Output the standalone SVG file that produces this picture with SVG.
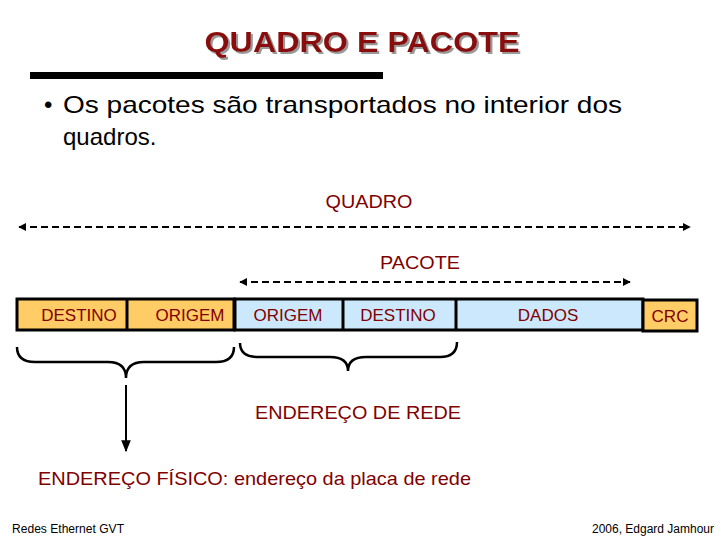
<svg xmlns="http://www.w3.org/2000/svg" width="720" height="540" viewBox="0 0 720 540">
<defs>
<style>
.t{font-family:"Liberation Sans",Arial,sans-serif;fill:#800000}
.b{font-family:"Liberation Sans",Arial,sans-serif;fill:#000}
.box{stroke:#000;stroke-width:3}
.dash{stroke:#000;stroke-width:2;stroke-dasharray:7 4;fill:none}
.brace{stroke:#000;stroke-width:2.5;fill:none}
</style>
<filter id="sh" x="-5%" y="-20%" width="110%" height="140%">
<feDropShadow dx="2" dy="2" stdDeviation="0.3" flood-color="#999" flood-opacity="1"/>
</filter>
<marker id="ah" viewBox="0 0 10 10" refX="9" refY="5" markerWidth="4" markerHeight="4" orient="auto-start-reverse" markerUnits="strokeWidth">
<path d="M0,0 L10,5 L0,10 z" fill="#000"/>
</marker>
<marker id="ah2" viewBox="0 0 10 10" refX="9" refY="5" markerWidth="6" markerHeight="6" orient="auto" markerUnits="strokeWidth">
<path d="M0,1 L10,5 L0,9 z" fill="#000"/>
</marker>
</defs>
<rect width="720" height="540" fill="#fff"/>
<g id="title">
<text class="t" x="362" y="52" text-anchor="middle" font-weight="bold" font-size="29" textLength="315" lengthAdjust="spacingAndGlyphs" filter="url(#sh)" style="fill:#8a0a0a">QUADRO E PACOTE</text>
<rect x="30" y="72" width="353" height="7" fill="#000"/>
</g>
<g id="bullet">
<text class="b" x="44" y="113" font-size="24">•</text>
<text class="b" x="63" y="113" font-size="24" textLength="559" lengthAdjust="spacingAndGlyphs">Os pacotes são transportados no interior dos</text>
<text class="b" x="63" y="145" font-size="24">quadros.</text>
</g>
<g id="connectors">
<line class="dash" x1="19" y1="227" x2="690" y2="227" marker-start="url(#ah)" marker-end="url(#ah)"/>
<line class="dash" x1="240" y1="282" x2="630" y2="282" marker-start="url(#ah)" marker-end="url(#ah)"/>
<path class="brace" d="M17,347 Q17,362 35,362 L108,362 Q126,362 126,378 Q126,362 144,362 L216,362 Q234,362 234,347"/>
<path class="brace" d="M240,343 Q240,357 258,357 L330,357 Q348,357 348,371 Q348,357 366,357 L440,357 Q457,357 457,342"/>
<line x1="126" y1="385" x2="126" y2="451" stroke="#000" stroke-width="2" marker-end="url(#ah2)"/>
</g>
<g id="label-quadro"><text class="t" x="369" y="208" text-anchor="middle" font-size="18" textLength="87" lengthAdjust="spacingAndGlyphs">QUADRO</text></g>
<g id="label-pacote"><text class="t" x="420" y="269" text-anchor="middle" font-size="18" textLength="80" lengthAdjust="spacingAndGlyphs">PACOTE</text></g>
<g id="frame-orange">
<rect class="box" x="17" y="299" width="217" height="31" fill="#ffcc66"/>
<line x1="127" y1="299" x2="127" y2="330" stroke="#000" stroke-width="3"/>
<text class="t" x="79" y="321" text-anchor="middle" font-size="17">DESTINO</text>
<text class="t" x="190" y="321" text-anchor="middle" font-size="17">ORIGEM</text>
</g>
<g id="packet">
<rect class="box" x="235" y="299" width="408" height="31" fill="#cce8fc"/>
<line x1="343" y1="299" x2="343" y2="330" stroke="#000" stroke-width="3"/>
<line x1="456" y1="299" x2="456" y2="330" stroke="#000" stroke-width="3"/>
<text class="t" x="288" y="321" text-anchor="middle" font-size="17">ORIGEM</text>
<text class="t" x="398" y="321" text-anchor="middle" font-size="17">DESTINO</text>
<text class="t" x="548" y="321" text-anchor="middle" font-size="17">DADOS</text>
</g>
<g id="crc">
<rect class="box" x="643" y="300" width="54" height="31" fill="#ffcc66"/>
<text class="t" x="670" y="322" text-anchor="middle" font-size="17">CRC</text>
</g>
<g id="label-rede"><text class="t" x="255" y="419" font-size="19" textLength="206" lengthAdjust="spacingAndGlyphs">ENDEREÇO DE REDE</text></g>
<g id="label-fisico"><text class="t" x="38" y="485" font-size="19" textLength="433" lengthAdjust="spacingAndGlyphs">ENDEREÇO FÍSICO: endereço da placa de rede</text></g>
<g id="footer">
<text class="b" x="12" y="533" font-size="12.5" textLength="112" lengthAdjust="spacingAndGlyphs">Redes Ethernet GVT</text>
<text class="b" x="714" y="533" text-anchor="end" font-size="12.5" textLength="122" lengthAdjust="spacingAndGlyphs">2006, Edgard Jamhour</text>
</g>
</svg>
